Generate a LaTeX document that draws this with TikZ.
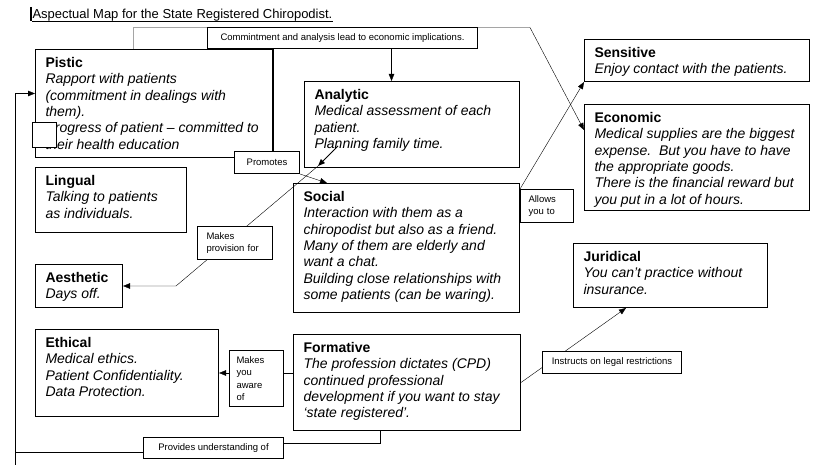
\documentclass[tikz,border=0pt]{standalone}
\usepackage{fontspec}
\setmainfont{Liberation Sans}
\usetikzlibrary{arrows.meta, calc}
\pgfdeclarelayer{background}
\pgfsetlayers{background,main}

% box text: width, height, heading, lines
\newcommand{\aspecttext}[4]{%
  \begin{minipage}[t][\dimexpr#2pt-16pt\relax][t]{\dimexpr#1pt-20pt\relax}
    \raggedright\fontsize{14}{16.3}\selectfont
    \textbf{#3}\\ \itshape #4
  \end{minipage}}

\begin{document}
\begin{tikzpicture}[x=1pt, y=-1pt, line width=1pt,
    aspect/.style={draw, anchor=north west, inner xsep=10pt, inner ysep=8pt},
    tag/.style={draw, fill=white, anchor=north west, inner sep=0pt, align=center,
      font=\fontsize{9.5}{12.5}\selectfont},
    link/.style={-{Triangle[length=7pt, width=5.5pt]}}]
    \useasboundingbox (0,0) rectangle (825,465);

    % Title
    \node[anchor=base west, inner sep=0pt, font=\fontsize{13}{15}\selectfont] (title) at (32,19)
        {Aspectual Map for the State Registered Chiropodist.};
    \draw[line width=0.7pt] ([yshift=-2pt]title.base west) -- ([yshift=-2pt]title.base east);
    \draw[line width=1.2pt] (31,7) -- (31,21); % cursor

    % Aspect boxes
    \node[aspect] (pistic) at (35,49) {\aspecttext{237}{108}{Pistic}{Rapport with patients\\
        (commitment in dealings with\\ them).\\ Progress of patient -- committed to\\ their health education}};
    \node[draw, fill=white, anchor=north west, inner sep=0pt, minimum width=24pt, minimum height=25pt] (blank) at (32,122) {};
    \node[aspect] (analytic) at (304,81) {\aspecttext{215}{86}{Analytic}{Medical assessment of each\\
        patient.\\ Planning family time.}};
    \node[aspect] (sensitive) at (584,39) {\aspecttext{225}{42}{Sensitive}{Enjoy contact with the patients.}};
    \node[aspect] (economic) at (584,104) {\aspecttext{225}{106}{Economic}{Medical supplies are the biggest\\
        expense.\ \ But you have to have\\ the appropriate goods.\\ There is the financial reward but\\
        you put in a lot of hours.}};
    \node[aspect] (lingual) at (35,167) {\aspecttext{151}{65}{Lingual}{Talking to patients\\ as individuals.}};
    \node[aspect] (aesthetic) at (35,264) {\aspecttext{87}{43}{Aesthetic}{Days off.}};
    \node[aspect] (social) at (293,183) {\aspecttext{226}{129}{Social}{Interaction with them as a\\
        chiropodist but also as a friend.\\ Many of them are elderly and\\ want a chat.\\
        Building close relationships with\\ some patients (can be waring).}};
    \node[aspect] (juridical) at (573,243) {\aspecttext{194}{64}{Juridical}{You can’t practice without\\ insurance.}};
    \node[aspect] (ethical) at (35,329) {\aspecttext{183}{87}{Ethical}{Medical ethics.\\
        Patient Confidentiality.\\ Data Protection.}};
    \node[aspect] (formative) at (293,334) {\aspecttext{227}{96}{Formative}{The profession dictates (CPD)\\
        continued professional\\ development if you want to stay\\ ‘state registered’.}};

    % Connector labels
    \node[tag, minimum width=270pt, minimum height=21pt] (cmt) at (207,27)
        {Commintment and analysis lead to economic implications.};
    \node[tag, minimum width=65pt, minimum height=22pt] (promotes) at (234,151) {Promotes};
    \node[tag, align=left, text width=57pt, inner xsep=9pt, minimum height=33pt] (provision) at (197,226)
        {Makes\\ provision for};
    \node[tag, align=left, text width=37pt, inner xsep=8pt, minimum height=33pt] (allows) at (520,189)
        {Allows\\ you to};
    \node[tag, minimum width=139pt, minimum height=22pt] (instructs) at (542,351) {Instructs on legal restrictions};
    \node[tag, align=left, text width=40pt, inner xsep=7pt, minimum height=56pt] (aware) at (229,350)
        {Makes\\ you\\ aware\\ of};
    \node[tag, minimum width=140pt, minimum height=21pt] (provides) at (143,437) {Provides understanding of};

    % Turning points
    \coordinate (cmtleft) at (133.5,27.5);
    \coordinate (cmtright) at (530,27.5);
    \coordinate (econin) at (584,130);
    \coordinate (anin) at (391.5,0);
    \coordinate (socin) at (327,183);
    \coordinate (provstart) at (338,146);
    \coordinate (provtip) at (318,166);
    \coordinate (provbend) at (176,286);
    \coordinate (jurin) at (626,0);
    \coordinate (provturn) at (380.5,443.5);
    \coordinate (leftfoot) at (15.5,465);
    \coordinate (leftjoin) at (15.5,452.5);
    \coordinate (lefthead) at (15.5,93.5);

    % Connectors
    \draw[link] (provstart) -- (provtip);
    \begin{pgfonlayer}{background}
        \draw[link] (pistic.north -| cmtleft) -- (cmtleft) -- (cmtright) -- (economic.west |- econin);
        \draw[link] (cmt.south -| anin) -- (analytic.north -| anin);
        \draw (cmt.south -| pistic.east) -- (promotes.north -| pistic.east);
        \draw[link] (promotes.south east) -- (social.north -| socin);
        \draw[link] (provtip) -- (provbend) -- (aesthetic.east -| provbend) -- (aesthetic.east);
        \draw[link] (allows.north west) -- (sensitive.south west);
        \draw[link] (formative.east) -- (juridical.south -| jurin);
        \draw[link] (formative.west |- ethical.east) -- (ethical.east);
        \draw (formative.south -| provturn) -- (provturn) -- (provides.east |- provturn);
        \draw (provides.west |- leftjoin) -- (leftjoin);
        \draw[link] (leftfoot) -- (lefthead) -- (pistic.west |- lefthead);
    \end{pgfonlayer}

\end{tikzpicture}
\end{document}
